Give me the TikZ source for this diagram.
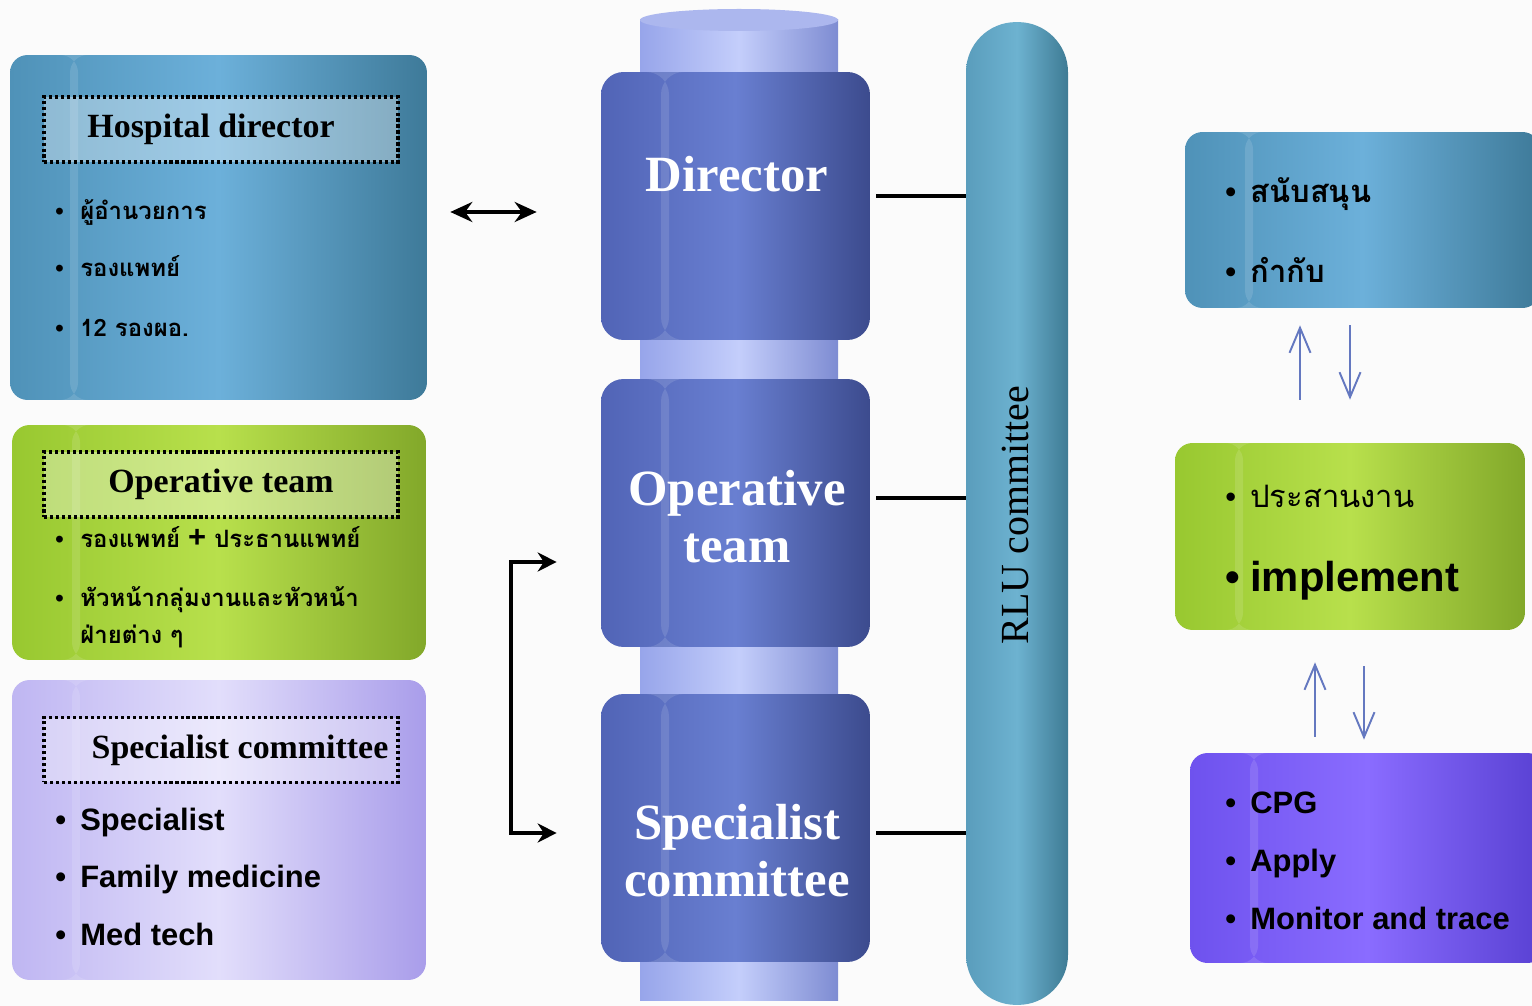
\documentclass[tikz,border=0pt]{standalone}
\usepackage{fontspec}
\setmainfont{Liberation Serif}
\setsansfont{Liberation Sans}
\newfontfamily\thai[Script=Thai]{Loma}
\usetikzlibrary{arrows.meta}

\definecolor{bluL}{HTML}{4F92B8}
\definecolor{bluM}{HTML}{6CB0DA}
\definecolor{bluR}{HTML}{3E7A99}
\definecolor{grnL}{HTML}{98C830}
\definecolor{grnM}{HTML}{B8E04C}
\definecolor{grnR}{HTML}{82A82A}
\definecolor{lilL}{HTML}{BFB6F2}
\definecolor{lilM}{HTML}{E2DEFB}
\definecolor{lilR}{HTML}{A99DEA}
\definecolor{vioL}{HTML}{6E52EE}
\definecolor{vioM}{HTML}{8A6CFF}
\definecolor{vioR}{HTML}{5840D2}
\definecolor{rngL}{HTML}{5164B6}
\definecolor{rngM}{HTML}{697FD1}
\definecolor{rngR}{HTML}{3C4B8E}
\definecolor{shfL}{HTML}{97A5EA}
\definecolor{shfM}{HTML}{C4CEFB}
\definecolor{shfR}{HTML}{7E8CD2}
\definecolor{rluL}{HTML}{5A9DBC}
\definecolor{rluM}{HTML}{6DB2D0}
\definecolor{rluR}{HTML}{3E7B94}
\definecolor{arrowblue}{HTML}{6478C0}

\newcommand{\blt}{\makebox[0.5cm][l]{\sffamily\textbullet}}

\begin{document}
\begin{tikzpicture}[x=0.02cm, y=-0.02cm,
  gloss/.style={path picture={\fill[white, opacity=.12] ([xshift=1.2cm]path picture bounding box.south west) rectangle ([xshift=1.36cm]path picture bounding box.north west);}},
  box/.style={rounded corners=0.35cm, inner sep=0pt, gloss},
  bluebox/.style={box, left color=bluL, right color=bluR, middle color=bluM},
  greenbox/.style={box, left color=grnL, right color=grnR, middle color=grnM},
  lilacbox/.style={box, left color=lilL, right color=lilR, middle color=lilM},
  violetbox/.style={box, left color=vioL, right color=vioR, middle color=vioM},
  title/.style={draw, dash pattern=on 1.8pt off 1.6pt, line width=1.8pt, fill=white, fill opacity=.35, text opacity=1, minimum width=7.08cm, minimum height=1.3cm, font=\bfseries\fontsize{19.3}{23}\selectfont},
  ring/.style={rounded corners=0.45cm, gloss, left color=rngL, right color=rngR, middle color=rngM, minimum width=5.38cm, minimum height=5.36cm},
  ringtext/.style={text=white, align=center, inner sep=0pt, font=\bfseries\fontsize{28.9}{32.3}\selectfont},
  rlu/.style={rounded corners=1cm, left color=rluL, right color=rluR, middle color=rluM, minimum width=2.04cm, minimum height=19.66cm},
  thaiitem/.style={anchor=base west, inner sep=0pt, font=\thai\bfseries\fontsize{13.6}{17}\selectfont},
  sansitem/.style={anchor=base west, inner sep=0pt, font=\sffamily\bfseries\fontsize{17.6}{21}\selectfont},
  link/.style={line width=2.2pt},
  dbl/.style={link, {Stealth[length=0.44cm,width=0.4cm]}-{Stealth[length=0.44cm,width=0.4cm]}},
  flow/.style={draw=arrowblue, line width=1.1pt, -{Straight Barb[length=0.5cm,width=0.42cm]}}
]
\useasboundingbox (0,0) rectangle (1532,1006);
\fill[gray!3] (0,0) rectangle (1532,1006);

% left column
\node[bluebox, minimum width=8.34cm, minimum height=6.9cm] (hosp) at (218.5,227.5) {};
\node[title] (hospt) at (221,129.5) {\hspace{-0.4cm}Hospital director};
\node[thaiitem] (hd1) at (55,220) {\blt ผู้อำนวยการ};
\node[thaiitem] (hd2) at (55,277) {\blt รองแพทย์};
\node[thaiitem] (hd3) at (55,337) {\blt 12 รองผอ.};

\node[greenbox, minimum width=8.28cm, minimum height=4.7cm] (oper) at (219,542.5) {};
\node[title] (opert) at (221,484.5) {Operative team};
\node[thaiitem] (op1) at (55,548) {\blt รองแพทย์ {\sffamily\fontsize{17.6}{21}\selectfont+} ประธานแพทย์};
\node[thaiitem] (op2) at (55,607) {\blt หัวหน้ากลุ่มงานและหัวหน้า};
\node[thaiitem] (op3) at (80,643) {ฝ่ายต่าง ๆ};

\node[lilacbox, minimum width=8.28cm, minimum height=6cm] (spec) at (219,830) {};
\node[title] (spect) at (221,750) {\hspace{0.76cm}Specialist committee};
\node[sansitem] (sp1) at (55,830) {\blt Specialist};
\node[sansitem] (sp2) at (55,887) {\blt Family medicine};
\node[sansitem] (sp3) at (55,945) {\blt Med tech};

% middle column
\shade[left color=shfL, right color=shfR, middle color=shfM] (640,20) rectangle (838,1000);
\fill[shfL!80!white] (739,20) ellipse [x radius=99, y radius=11];
\node[ring] (dir) at (735.5,206) {};
\node[ring] (opr) at (735.5,513) {};
\node[ring] (spc) at (735.5,828) {};
\node[ringtext] (dirt) at (737,174.5) {Director};
\node[ringtext] (oprt) at (737,516.5) {Operative\\team};
\node[ringtext] (spct) at (737,851) {Specialist\\committee};

\node[rlu] (rlu) at (1017,513.5) {};
\node[rotate=90, inner sep=0pt, font=\fontsize{22.7}{26}\selectfont] (rlut) at (1015,515) {RLU committee};

% right column
\node[bluebox, minimum width=7.1cm, minimum height=3.52cm] (supp) at (1362.5,220) {};
\node[thaiitem, font=\thai\bfseries\fontsize{17.6}{21}\selectfont] (su1) at (1225,203) {\blt สนับสนุน};
\node[thaiitem, font=\thai\bfseries\fontsize{17.6}{21}\selectfont] (su2) at (1225,283) {\blt กำกับ};

\node[greenbox, minimum width=7cm, minimum height=3.74cm] (coord) at (1350,536.5) {};
\node[thaiitem, font=\thai\fontsize{17.6}{21}\selectfont] (co1) at (1225,508) {\blt ประสานงาน};
\node[sansitem, font=\sffamily\bfseries\fontsize{23.8}{28}\selectfont] (co2) at (1225,592) {\blt implement};

\node[violetbox, minimum width=7.1cm, minimum height=4.2cm] (apply) at (1367.5,858) {};
\node[sansitem] (ap1) at (1225,813) {\blt CPG};
\node[sansitem] (ap2) at (1225,871) {\blt Apply};
\node[sansitem] (ap3) at (1225,929) {\blt Monitor and trace};

% connectors
\draw[dbl, shorten <=0.46cm, shorten >=1.28cm] (hosp.east |- 0,212) -- (dir.west |- 0,212);
\draw[link, {Stealth[length=0.38cm,width=0.38cm]}-{Stealth[length=0.38cm,width=0.38cm]}, shorten <=0.88cm, shorten >=0.88cm] (opr.west |- 0,562) -| (511,700) |- (spc.west |- 0,833);
\draw[link, shorten <=0.12cm] (dir.east |- 0,196) -- (rlu.west |- 0,196);
\draw[link, shorten <=0.12cm] (opr.east |- 0,498) -- (rlu.west |- 0,498);
\draw[link, shorten <=0.12cm] (spc.east |- 0,833) -- (rlu.west |- 0,833);

\draw[flow, shorten <=0.86cm, shorten >=0.34cm] (coord.north -| 1300,0) -- (supp.south -| 1300,0);
\draw[flow, shorten <=0.34cm, shorten >=0.86cm] (supp.south -| 1350,0) -- (coord.north -| 1350,0);
\draw[flow, shorten <=0.32cm, shorten >=0.64cm] (apply.north -| 1315,0) -- (coord.south -| 1315,0);
\draw[flow, shorten <=0.72cm, shorten >=0.26cm] (coord.south -| 1364,0) -- (apply.north -| 1364,0);
\end{tikzpicture}
\end{document}
